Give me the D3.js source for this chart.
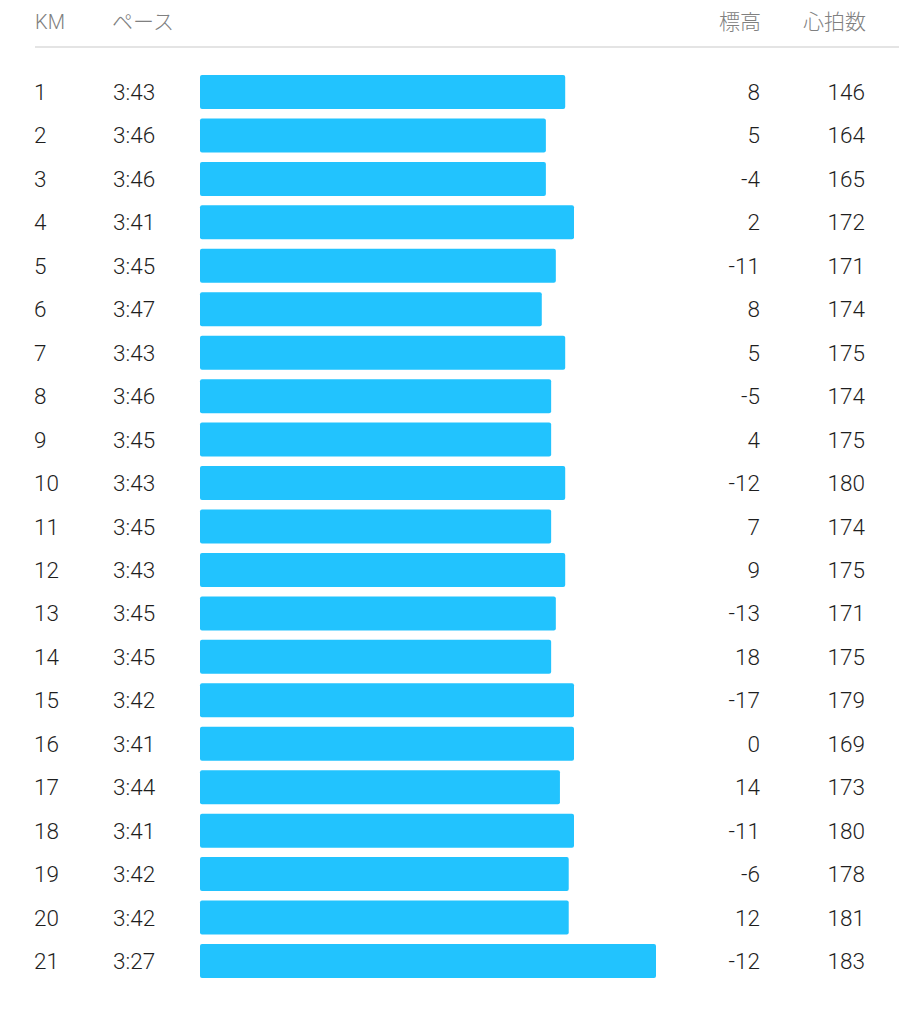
<!DOCTYPE html>
<html><head><meta charset="utf-8">
<script src="https://cdn.jsdelivr.net/npm/d3@7"></script>
<style>html,body{margin:0;padding:0;background:#fff;}svg{display:block;}</style>
</head><body>
<script>
const headers = ["KM", "ペース", "標高", "心拍数"];
const km = d3.range(1, 22);
const paceLabels = ["3:43","3:46","3:46","3:41","3:45","3:47","3:43","3:46","3:45","3:43","3:45","3:43","3:45","3:45","3:42","3:41","3:44","3:41","3:42","3:42","3:27"];
const paceSec = [222.5,225.8,225.8,221.0,224.1,226.5,222.5,224.9,224.9,222.5,224.9,222.5,224.1,224.9,221.0,221.0,223.4,221.0,221.9,221.9,207.0];
const elevation = [8,5,-4,2,-11,8,5,-5,4,-12,7,9,-13,18,-17,0,14,-11,-6,12,-12];
const heartRate = [146,164,165,172,171,174,175,174,175,180,174,175,171,175,179,169,173,180,178,181,183];

const W = 901, H = 1024;
const svg = d3.select("body").append("svg").attr("width", W).attr("height", H);
const font = "Roboto, 'Noto Sans CJK JP', sans-serif";

const y = d3.scalePoint().domain(km).range([92, 961]);
const x = d3.scaleLinear().domain([240, 200]).range([462.7, 697]);
const barX0 = 200, barH = 34;

// header
const hdr = svg.append("g").attr("font-family", "'Noto Sans CJK JP', sans-serif").attr("font-weight", 300).attr("font-size", 21).attr("fill", "#808080");
hdr.append("text").attr("x", 35).attr("y", 29).attr("font-family", font).attr("font-size", 20).text(headers[0]);
hdr.append("text").attr("x", 112).attr("y", 29).text(headers[1]);
hdr.append("text").attr("x", 761).attr("y", 29).attr("text-anchor", "end").text(headers[2]);
hdr.append("text").attr("x", 866).attr("y", 29).attr("text-anchor", "end").text(headers[3]);
svg.append("line").attr("x1", 35).attr("x2", 899).attr("y1", 47).attr("y2", 47).attr("stroke", "#e4e4e4").attr("stroke-width", 2);

const rows = svg.append("g").selectAll("g").data(km).join("g")
  .attr("transform", d => `translate(0,${y(d)})`);

rows.append("rect")
  .attr("x", barX0).attr("y", -barH/2).attr("height", barH)
  .attr("width", (d, i) => x(paceSec[i]) - barX0)
  .attr("rx", 2).attr("fill", "#22c3fe");

const txt = (sel) => sel.attr("font-family", font).attr("font-weight", 300).attr("font-size", 22.5).attr("fill", "#1e1e1e").attr("dy", 8);
rows.append("text").attr("x", 34).text(d => d).call(txt);
rows.append("text").attr("x", 113).text((d, i) => paceLabels[i]).call(txt);
rows.append("text").attr("x", 760).attr("text-anchor", "end").text((d, i) => elevation[i]).call(txt);
rows.append("text").attr("x", 865).attr("text-anchor", "end").text((d, i) => heartRate[i]).call(txt);
</script>
</body></html>
